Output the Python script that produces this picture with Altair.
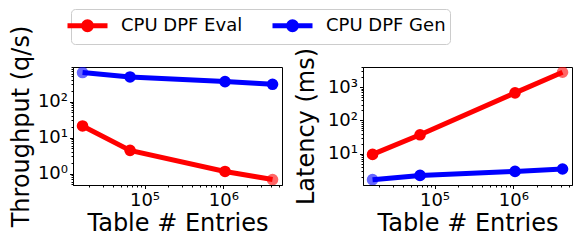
import altair as alt
import pandas as pd

# ---- data ----
entries = [16384, 65536, 1048576, 4194304]
series = ["CPU DPF Eval", "CPU DPF Gen"]
colors = ["#ff0000", "#0000ff"]
throughput_eval = [21, 4.4, 1.14, 0.68]
throughput_gen = [640, 482, 359, 302]
latency_eval = [9.5, 37, 678, 2830]
latency_gen = [1.65, 2.22, 2.93, 3.46]

x_title = "Table # Entries"
y_titles = ["Throughput (q/s)", "Latency (ms)"]
x_major = [1e5, 1e6]
x_minor = [m * 10 ** k for k in (4, 5) for m in range(2, 10)] + [2e6, 3e6, 4e6, 5e6]
y1_major = [1, 10, 100]
y1_minor = [0.5, 0.6, 0.7, 0.8, 0.9] + [m * 10 ** k for k in (0, 1, 2) for m in range(2, 10)]
y2_major = [10, 100, 1000]
y2_minor = [m * 10 ** k for k in (0, 1, 2) for m in range(2, 10)] + [2000, 3000, 4000]

x_domain = [12400, 5530000]
y1_domain = [0.48, 912]
y2_domain = [1.14, 4070]


def long_df(a, b):
    rows = []
    for s, vals in zip(series, (a, b)):
        for e, v in zip(entries, vals):
            rows.append({"entries": e, "series": s, "value": v})
    return pd.DataFrame(rows)


FONT = "DejaVu Sans"
label_expr = ("'10' + substring('⁰¹²³⁴⁵⁶⁷⁸⁹', round(log(datum.value)/LN10), "
              "round(log(datum.value)/LN10) + 1)")

legend = alt.Legend(
    orient="none", legendX=-2, legendY=-58, direction="horizontal", title=None,
    symbolType="M-2,0L2,0M-0.4,0A0.4,0.4,0,1,0,0.4,0A0.4,0.4,0,1,0,-0.4,0Z",
    symbolSize=400, symbolStrokeWidth=5, symbolOpacity=1,
    labelFontSize=18, labelFont=FONT, labelColor="black", labelOffset=21,
    strokeColor="#cccccc", fillColor="white", cornerRadius=4, padding=4,
    columnPadding=19,
)


def panel(df, ytitle, ydomain, ymajor, yminor, ytitle_pad):
    xs = alt.Scale(type="log", domain=x_domain, nice=False)
    ys = alt.Scale(type="log", domain=ydomain, nice=False)
    x_axis = alt.Axis(values=x_major, labelExpr=label_expr, title=x_title, orient="bottom",
                      grid=False, tickSize=3.5, labelPadding=3, labelFontSize=18,
                      titleFontSize=24, titlePadding=2, labelFlush=False)
    y_axis = alt.Axis(values=ymajor, labelExpr=label_expr, title=ytitle, orient="left",
                      grid=False, tickSize=3.5, labelPadding=2, labelFontSize=18,
                      titleFontSize=24, titlePadding=ytitle_pad, labelFlush=False)
    x_axis_minor = alt.Axis(values=x_minor, labels=False, title=None, orient="bottom",
                            grid=False, tickSize=2, domain=False)
    y_axis_minor = alt.Axis(values=yminor, labels=False, title=None, orient="left",
                            grid=False, tickSize=2, domain=False)
    base = alt.Chart(df)
    line = base.mark_line(strokeWidth=5, clip=True).encode(
        x=alt.X("entries:Q", scale=xs, axis=x_axis),
        y=alt.Y("value:Q", scale=ys, axis=y_axis),
        color=alt.Color("series:N", scale=alt.Scale(domain=series, range=colors), legend=legend),
    )
    pts = base.mark_circle(size=135, clip=True).encode(
        x=alt.X("entries:Q", scale=xs, axis=x_axis_minor),
        y=alt.Y("value:Q", scale=ys, axis=y_axis_minor),
        fill=alt.Fill("series:N", scale=alt.Scale(domain=series, range=colors), legend=legend),
        opacity=alt.condition(
            "(datum.series == 'CPU DPF Gen' && datum.entries == 16384) || "
            "(datum.series == 'CPU DPF Eval' && datum.entries == 4194304)",
            alt.value(0.6), alt.value(1)),
    )
    return alt.layer(line, pts).resolve_axis(x="independent", y="independent").properties(
        width=209, height=118)


left = panel(long_df(throughput_eval, throughput_gen), y_titles[0], y1_domain, y1_major, y1_minor, 4)
right = panel(long_df(latency_eval, latency_gen), y_titles[1], y2_domain, y2_major, y2_minor, 9)

chart = alt.hconcat(left, right, spacing=10).properties(padding=0).configure(
    font=FONT
).configure_view(stroke="black", strokeWidth=1).configure_axis(
    labelColor="black", titleColor="black", tickColor="black", domainColor="black",
    titleFontWeight="normal", labelFont=FONT, titleFont=FONT
)

chart.save("out.html", embed_options={"renderer": "svg", "actions": False})
